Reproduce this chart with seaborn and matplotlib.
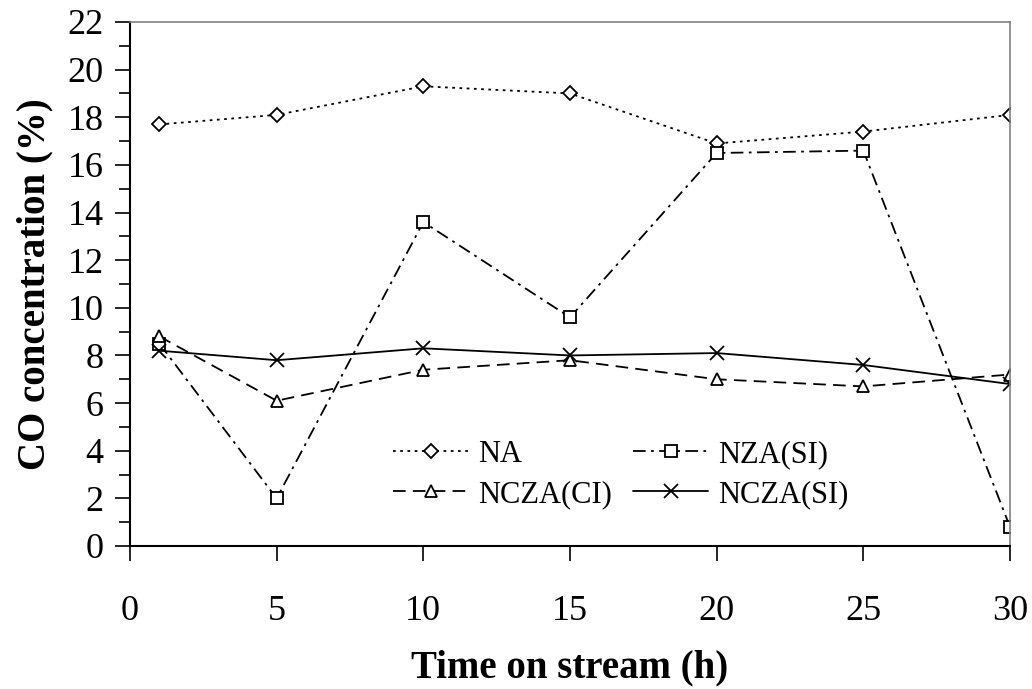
import matplotlib
matplotlib.use("Agg")
import matplotlib.pyplot as plt
from matplotlib.ticker import MultipleLocator
import seaborn as sns
import pandas as pd

time_h = [1, 5, 10, 15, 20, 25, 30]
na = [17.7, 18.1, 19.3, 19.0, 16.9, 17.4, 18.1]
nza_si = [8.5, 2.0, 13.6, 9.6, 16.5, 16.6, 0.8]
ncza_ci = [8.8, 6.1, 7.4, 7.8, 7.0, 6.7, 7.2]
ncza_si = [8.2, 7.8, 8.3, 8.0, 8.1, 7.6, 6.8]
series_names = ["NA", "NZA(SI)", "NCZA(CI)", "NCZA(SI)"]

rows = []
for name, vals in zip(series_names, [na, nza_si, ncza_ci, ncza_si]):
    for t, v in zip(time_h, vals):
        rows.append({"time": t, "co": v, "series": name})
df = pd.DataFrame(rows)

sns.set_style("ticks")
plt.rcParams["font.family"] = ["Liberation Serif", "DejaVu Serif"]
plt.rcParams["text.color"] = "black"
plt.rcParams["axes.labelcolor"] = "black"
plt.rcParams["xtick.color"] = "black"
plt.rcParams["ytick.color"] = "black"

fig = plt.figure(figsize=(10.32, 6.89), dpi=100)
ax = fig.add_axes([130 / 1032, 1 - 546 / 689, 880 / 1032, 524 / 689])

styles = {
    "NA": dict(linestyle=(0, (1.5, 2.5)), marker="D", ms=7.5),
    "NZA(SI)": dict(linestyle=(0, (7, 3, 1.5, 3)), marker="s", ms=8),
    "NCZA(CI)": dict(linestyle=(0, (7, 4)), marker="^", ms=9),
    "NCZA(SI)": dict(linestyle="-", marker="x", ms=10),
}

handles = {}
for name in series_names:
    st = styles[name]
    sub = df[df["series"] == name]
    sns.lineplot(data=sub, x="time", y="co", ax=ax, color="black", lw=1.3,
                 linestyle=st["linestyle"], marker=st["marker"],
                 markersize=st["ms"],
                 markerfacecolor="white", markeredgecolor="black",
                 markeredgewidth=1.3, label=name)
    handles[name] = ax.get_lines()[-1]

ax.set_xlim(0, 30)
ax.set_ylim(0, 22)
ax.xaxis.set_major_locator(MultipleLocator(5))
ax.yaxis.set_major_locator(MultipleLocator(2))
ax.yaxis.set_minor_locator(MultipleLocator(1))
ax.tick_params(axis="y", which="major", direction="out", length=11, width=1.2,
               labelsize=26, pad=8, color="black", labelcolor="black")
ax.tick_params(axis="y", which="minor", direction="out", length=8, width=1.2, color="black")
ax.tick_params(axis="x", which="major", direction="out", length=11, width=1.2,
               labelsize=26, pad=24, color="black", labelcolor="black")

for side in ["left", "bottom"]:
    ax.spines[side].set_color("black")
    ax.spines[side].set_linewidth(1.5)
for side in ["top", "right"]:
    ax.spines[side].set_visible(True)
    ax.spines[side].set_color("#808080")
    ax.spines[side].set_linewidth(1.2)

ax.set_xlabel("Time on stream (h)", fontsize=28, fontweight="bold", labelpad=16,
              color="black")
ax.set_ylabel("CO concentration (%)", fontsize=28, fontweight="bold", labelpad=10,
              color="black")

order = ["NA", "NCZA(CI)", "NZA(SI)", "NCZA(SI)"]
leg = ax.legend([handles[n] for n in order], order, ncol=2, frameon=False,
                fontsize=22, loc="lower left", bbox_to_anchor=(0.299, 0.071),
                handlelength=2.45, handletextpad=0.33, columnspacing=0.7,
                labelspacing=0.35, borderaxespad=0, borderpad=0)
for t in leg.get_texts():
    t.set_color("black")

fig.savefig("out.png", dpi=100)
